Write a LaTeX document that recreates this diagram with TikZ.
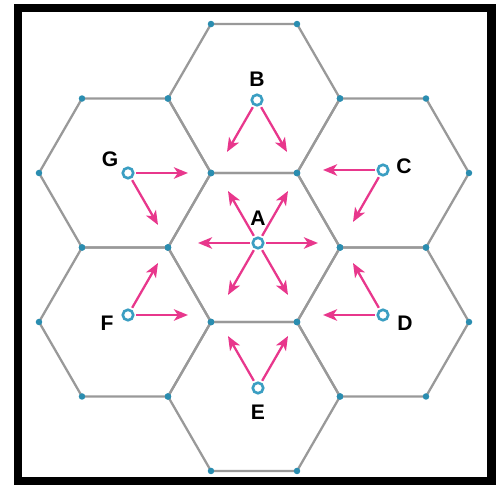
\documentclass[tikz,border=0pt]{standalone}
\usepackage{fontspec}
\setmainfont{Liberation Sans}
\usetikzlibrary{arrows.meta}
\definecolor{cellline}{HTML}{999999}
\definecolor{vtx}{HTML}{2A8DB0}
\definecolor{bs}{HTML}{3A9EC2}
\definecolor{sig}{HTML}{E8378C}
\tikzset{
  cell/.style={draw=cellline,line width=1.3pt,line join=round},
  vdot/.style={fill=vtx},
  site/.style={circle,draw=bs,fill=white,line width=1.5pt,minimum size=0.21cm,inner sep=0pt},
  slbl/.style={font=\fontsize{12}{14}\selectfont\bfseries,inner sep=0pt},
  sarr/.style={-{Stealth[length=8pt,width=6.5pt,inset=2.2pt]},line width=1.3pt,draw=sig,shorten <=1pt}
}
\begin{document}
\begin{tikzpicture}
  \useasboundingbox (-5.08,-4.75) rectangle (4.96,4.95);
  \draw[line width=4.8pt] (-4.72,-4.68) rectangle (4.75,4.79);
  % seven cells, dots on every corner
  \def\R{1.72}
  \foreach \cx/\cy in {0/0,0/2.98,0/-2.98,2.58/1.49,2.58/-1.49,-2.58/1.49,-2.58/-1.49}{
    \draw[cell] (\cx,\cy) +(0:\R) -- +(60:\R) -- +(120:\R) -- +(180:\R) -- +(240:\R) -- +(300:\R) -- cycle;
    \foreach \a in {0,60,...,300}
      \fill[vdot] (\cx,\cy) ++(\a:\R) circle (0.065);
  }
  % base stations
  \node[site] (A) at (0.08,0.09) {};
  \node[site] (B) at (0.06,2.95) {};
  \node[site] (C) at (2.58,1.55) {};
  \node[site] (D) at (2.58,-1.35) {};
  \node[site] (E) at (0.08,-2.81) {};
  \node[site] (F) at (-2.52,-1.35) {};
  \node[site] (G) at (-2.52,1.49) {};
  \node[slbl] (lA) at (0.08,0.59) {A};
  \node[slbl] (lB) at (0.06,3.37) {B};
  \node[slbl] (lC) at (3.0,1.63) {C};
  \node[slbl] (lD) at (3.02,-1.51) {D};
  \node[slbl] (lE) at (0.08,-3.29) {E};
  \node[slbl] (lF) at (-2.94,-1.51) {F};
  \node[slbl] (lG) at (-2.88,1.77) {G};
  % signal arrows
  \foreach \s/\ang in {A/0,A/60,A/120,A/180,A/240,A/300,B/240,B/300,C/180,C/240,
      D/180,D/120,E/120,E/60,F/0,F/60,G/0,G/300}{
    \path (\s) ++(\ang:1.2) coordinate (\s-\ang);
    \draw[sarr] (\s) -- (\s-\ang);
  }
\end{tikzpicture}
\end{document}
